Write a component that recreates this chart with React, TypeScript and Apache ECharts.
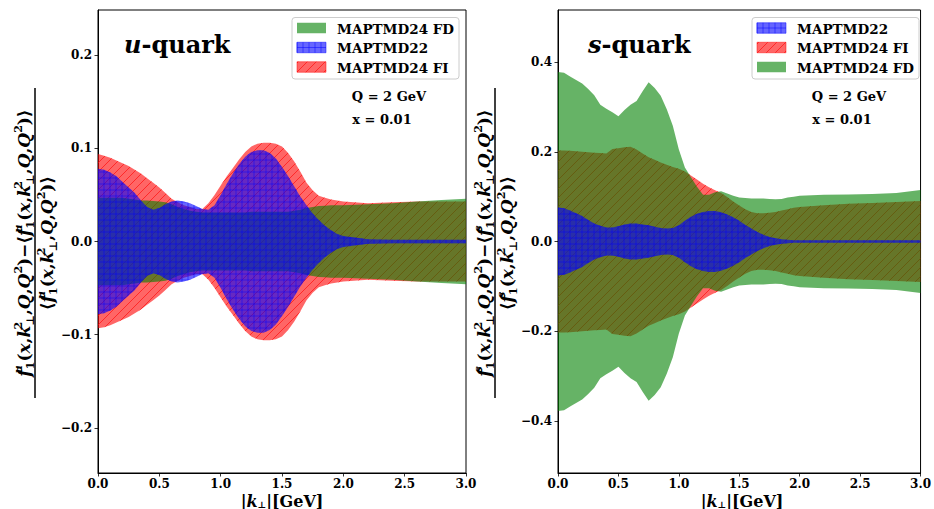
import React, { useEffect, useRef } from 'react';
import * as echarts from 'echarts';

// ---------- data ----------
const K = [
  0, 0.05, 0.1, 0.15, 0.2, 0.25, 0.3, 0.35, 0.4, 0.45,
  0.5, 0.55, 0.6, 0.65, 0.7, 0.75, 0.8, 0.85, 0.9, 0.95,
  1.0, 1.05, 1.1, 1.15, 1.2, 1.25, 1.3, 1.35, 1.4, 1.45,
  1.5, 1.55, 1.6, 1.65, 1.7, 1.75, 1.8, 1.85, 1.9, 1.95,
  2.0,
  2.2, 2.4, 2.6, 2.8, 3.0,
];

// u-quark
const U_FI_HI = [
  0.094, 0.092, 0.090, 0.087, 0.084, 0.081, 0.077, 0.073, 0.068, 0.063,
  0.058, 0.052, 0.046, 0.042, 0.039, 0.037, 0.035, 0.035, 0.041, 0.050,
  0.060, 0.070, 0.079, 0.088, 0.096, 0.102, 0.105, 0.106, 0.106, 0.105,
  0.102, 0.095, 0.086, 0.075, 0.063, 0.055, 0.049, 0.047, 0.045, 0.044,
  0.043,
  0.041, 0.042, 0.043, 0.043, 0.043,
];
const U_FI_LO = [
  -0.093, -0.092, -0.090, -0.087, -0.084, -0.081, -0.077, -0.073, -0.068, -0.063,
  -0.058, -0.052, -0.046, -0.042, -0.039, -0.037, -0.035, -0.035, -0.041, -0.050,
  -0.060, -0.070, -0.079, -0.088, -0.096, -0.102, -0.105, -0.106, -0.106, -0.105,
  -0.102, -0.095, -0.086, -0.075, -0.063, -0.055, -0.049, -0.047, -0.045, -0.044,
  -0.043,
  -0.041, -0.042, -0.043, -0.043, -0.043,
];
const U_FD_HI = [
  0.047, 0.047, 0.047, 0.047, 0.047, 0.046, 0.045, 0.044, 0.044, 0.0435,
  0.043, 0.042, 0.040, 0.037, 0.035, 0.033, 0.032, 0.031, 0.031, 0.031,
  0.031, 0.031, 0.031, 0.031, 0.031, 0.032, 0.032, 0.032, 0.032, 0.032,
  0.032, 0.032, 0.033, 0.034, 0.036, 0.037, 0.038, 0.0385, 0.039, 0.039,
  0.039,
  0.040, 0.041, 0.043, 0.0445, 0.046,
];
const U_FD_LO = [
  -0.047, -0.047, -0.047, -0.047, -0.047, -0.046, -0.045, -0.044, -0.044, -0.0435,
  -0.043, -0.042, -0.040, -0.037, -0.035, -0.033, -0.032, -0.031, -0.031, -0.031,
  -0.031, -0.031, -0.031, -0.031, -0.031, -0.032, -0.032, -0.032, -0.032, -0.032,
  -0.032, -0.032, -0.033, -0.034, -0.036, -0.037, -0.038, -0.0385, -0.039, -0.039,
  -0.039,
  -0.040, -0.041, -0.043, -0.0445, -0.046,
];
const U_22_HI = [
  0.078, 0.077, 0.074, 0.070, 0.064, 0.058, 0.052, 0.044, 0.037, 0.034,
  0.036, 0.040, 0.043, 0.044, 0.043, 0.041, 0.038, 0.035, 0.034, 0.039,
  0.050, 0.062, 0.073, 0.083, 0.091, 0.096, 0.098, 0.098, 0.095, 0.089,
  0.080, 0.070, 0.059, 0.048, 0.039, 0.030, 0.023, 0.017, 0.012, 0.008,
  0.006,
  0.0025, 0.002, 0.002, 0.002, 0.002,
];
const U_22_LO = [
  -0.078, -0.077, -0.074, -0.070, -0.064, -0.058, -0.052, -0.044, -0.037, -0.034,
  -0.036, -0.040, -0.043, -0.044, -0.043, -0.041, -0.038, -0.035, -0.034, -0.039,
  -0.050, -0.062, -0.073, -0.083, -0.091, -0.096, -0.098, -0.098, -0.095, -0.089,
  -0.080, -0.070, -0.059, -0.048, -0.039, -0.030, -0.023, -0.017, -0.012, -0.008,
  -0.006,
  -0.0025, -0.002, -0.002, -0.002, -0.002,
];

// s-quark
const S_FD_HI = [
  0.378, 0.376, 0.368, 0.360, 0.352, 0.340, 0.326, 0.305, 0.296, 0.288,
  0.279, 0.293, 0.305, 0.313, 0.335, 0.355, 0.342, 0.325, 0.295, 0.258,
  0.205, 0.165, 0.143, 0.122, 0.104, 0.104, 0.110, 0.112, 0.107, 0.102,
  0.098, 0.097, 0.096, 0.096, 0.096, 0.095, 0.094, 0.095, 0.098, 0.100,
  0.102,
  0.104, 0.105, 0.106, 0.108, 0.115,
];
const S_FD_LO = [
  -0.378, -0.376, -0.368, -0.360, -0.352, -0.340, -0.326, -0.305, -0.296, -0.288,
  -0.279, -0.293, -0.305, -0.313, -0.335, -0.355, -0.342, -0.325, -0.295, -0.258,
  -0.205, -0.165, -0.143, -0.122, -0.104, -0.104, -0.110, -0.112, -0.107, -0.102,
  -0.098, -0.097, -0.096, -0.096, -0.096, -0.095, -0.094, -0.095, -0.098, -0.100,
  -0.102,
  -0.104, -0.105, -0.106, -0.108, -0.115,
];
const S_FI_HI = [
  0.203, 0.203, 0.202, 0.201, 0.200, 0.199, 0.198, 0.197, 0.196, 0.206,
  0.208, 0.210, 0.211, 0.205, 0.196, 0.188, 0.182, 0.176, 0.171, 0.166,
  0.162, 0.156, 0.147, 0.138, 0.129, 0.121, 0.114, 0.108, 0.099, 0.089,
  0.080, 0.072, 0.066, 0.063, 0.063, 0.064, 0.066, 0.069, 0.072, 0.075,
  0.077,
  0.081, 0.084, 0.086, 0.088, 0.090,
];
const S_FI_LO = [
  -0.203, -0.203, -0.202, -0.201, -0.200, -0.199, -0.198, -0.197, -0.196, -0.206,
  -0.208, -0.210, -0.211, -0.205, -0.196, -0.188, -0.182, -0.176, -0.171, -0.166,
  -0.162, -0.156, -0.147, -0.138, -0.129, -0.121, -0.114, -0.108, -0.099, -0.089,
  -0.080, -0.072, -0.066, -0.063, -0.063, -0.064, -0.066, -0.069, -0.072, -0.075,
  -0.077,
  -0.081, -0.084, -0.086, -0.088, -0.090,
];
const S_22_HI = [
  0.076, 0.074, 0.069, 0.063, 0.057, 0.048, 0.040, 0.035, 0.031, 0.031,
  0.034, 0.038, 0.040, 0.040, 0.038, 0.036, 0.033, 0.030, 0.029, 0.030,
  0.036, 0.046, 0.055, 0.062, 0.066, 0.068, 0.068, 0.065, 0.060, 0.054,
  0.046, 0.037, 0.029, 0.021, 0.015, 0.010, 0.007, 0.005, 0.004, 0.003,
  0.003,
  0.003, 0.003, 0.003, 0.003, 0.003,
];
const S_22_LO = [
  -0.076, -0.074, -0.069, -0.063, -0.057, -0.048, -0.040, -0.035, -0.031, -0.031,
  -0.034, -0.038, -0.040, -0.040, -0.038, -0.036, -0.033, -0.030, -0.029, -0.030,
  -0.036, -0.046, -0.055, -0.062, -0.066, -0.068, -0.068, -0.065, -0.060, -0.054,
  -0.046, -0.037, -0.029, -0.021, -0.015, -0.010, -0.007, -0.005, -0.004, -0.003,
  -0.003,
  -0.003, -0.003, -0.003, -0.003, -0.003,
];

const X_TICKS = [0, 0.5, 1.0, 1.5, 2.0, 2.5, 3.0];
const U_Y_TICKS = [-0.2, -0.1, 0, 0.1, 0.2];
const S_Y_TICKS = [-0.4, -0.2, 0, 0.2, 0.4];
const U_LEGEND = ['MAPTMD24 FD', 'MAPTMD22', 'MAPTMD24 FI'];
const S_LEGEND = ['MAPTMD22', 'MAPTMD24 FI', 'MAPTMD24 FD'];

// ---------- styling ----------
const FONT = "'DejaVu Serif', 'Liberation Serif', serif";
const RED_FILL = 'rgba(255,0,0,0.6)';
const RED_HATCH = 'rgba(255,0,0,0.6)';
const GREEN_FILL = 'rgba(0,128,0,0.6)';
const BLUE_FILL = 'rgba(0,0,255,0.6)';
const BLUE_HATCH = 'rgba(0,0,255,0.6)';

function diagLines(x0: number, y0: number, x1: number, y1: number, step: number, stroke: string, lw: number) {
  const out: any[] = [];
  const start = Math.floor((x0 + y0) / step) * step;
  for (let c = start; c <= x1 + y1 + step; c += step) {
    const xa = Math.max(x0, c - y1);
    const xb = Math.min(x1, c - y0);
    if (xb <= xa) continue;
    out.push({ type: 'line', silent: true, shape: { x1: xa, y1: c - xa, x2: xb, y2: c - xb }, style: { stroke, lineWidth: lw, fill: 'none' } });
  }
  return out;
}

function gridLines(x0: number, y0: number, x1: number, y1: number, step: number, ox: number, oy: number, stroke: string, lw: number) {
  const out: any[] = [];
  for (let x = ox + Math.ceil((x0 - ox) / step) * step; x <= x1; x += step) {
    out.push({ type: 'line', silent: true, shape: { x1: x, y1: y0, x2: x, y2: y1 }, style: { stroke, lineWidth: lw, fill: 'none' } });
  }
  for (let y = oy + Math.ceil((y0 - oy) / step) * step; y <= y1; y += step) {
    out.push({ type: 'line', silent: true, shape: { x1: x0, y1: y, x2: x1, y2: y }, style: { stroke, lineWidth: lw, fill: 'none' } });
  }
  return out;
}

function band(name: string, idx: number, lo: number[], hi: number[], fill: string, hatch: string | null) {
  const data = K.map((k, i) => [k, lo[i], hi[i]]);
  return {
    type: 'custom',
    name,
    xAxisIndex: idx,
    yAxisIndex: idx,
    silent: true,
    clip: true,
    encode: { x: 0, y: [1, 2] },
    data,
    renderItem: (params: any, api: any) => {
      if (params.dataIndex !== 0) return null;
      const top = data.map((d) => api.coord([d[0], d[2]]));
      const bot = data.map((d) => api.coord([d[0], d[1]])).reverse();
      const pts = top.concat(bot);
      let minX = Infinity, minY = Infinity, maxX = -Infinity, maxY = -Infinity;
      for (const p of pts) {
        minX = Math.min(minX, p[0]); maxX = Math.max(maxX, p[0]);
        minY = Math.min(minY, p[1]); maxY = Math.max(maxY, p[1]);
      }
      const cs = params.coordSys;
      const children: any[] = [
        { type: 'polygon', shape: { points: pts }, style: { fill, stroke: 'none' } },
      ];
      if (hatch === 'diag') {
        children.push({ type: 'group', clipPath: { type: 'polygon', shape: { points: pts } }, children: diagLines(minX, minY, maxX, maxY, 9, RED_HATCH, 1) });
      } else if (hatch === 'grid') {
        children.push({ type: 'group', clipPath: { type: 'polygon', shape: { points: pts } }, children: gridLines(minX, minY, maxX, maxY, 6, cs.x, cs.y, BLUE_HATCH, 0.8) });
      }
      return { type: 'group', children };
    },
  };
}

function legendPatch(kind: string, x: number, yc: number) {
  const w = 29, h = 10.5;
  const y0 = yc - h / 2;
  const items: any[] = [];
  if (kind === 'MAPTMD24 FD') {
    items.push({ type: 'rect', shape: { x, y: y0, width: w, height: h }, style: { fill: GREEN_FILL } });
  } else if (kind === 'MAPTMD22') {
    items.push({ type: 'rect', shape: { x, y: y0, width: w, height: h }, style: { fill: BLUE_FILL, stroke: BLUE_HATCH, lineWidth: 0.8 } });
    items.push(...gridLines(x, y0, x + w, y0 + h, 6, x, y0 - 0.75, BLUE_HATCH, 0.8));
  } else {
    items.push({ type: 'rect', shape: { x, y: y0, width: w, height: h }, style: { fill: RED_FILL, stroke: RED_HATCH, lineWidth: 0.8 } });
    items.push(...diagLines(x, y0, x + w, y0 + h, 9, RED_HATCH, 1));
  }
  return items;
}

function legendBox(x: number, labels: string[]) {
  const els: any[] = [
    { type: 'rect', shape: { x, y: 17.5, width: 167, height: 61.5, r: 3 }, style: { fill: 'rgba(255,255,255,0.8)', stroke: '#cccccc', lineWidth: 1 } },
  ];
  const rows = [28, 47.5, 67];
  labels.forEach((lab, i) => {
    els.push(...legendPatch(lab, x + 5, rows[i]));
    els.push({
      type: 'text', x: x + 45, y: rows[i] + 0.5,
      style: { text: lab, fill: '#000', font: `bold 13.5px ${FONT}`, align: 'left', verticalAlign: 'middle', textAlign: 'left', textVerticalAlign: 'middle' },
    });
  });
  return els;
}

function annot(cx: number) {
  return [
    { type: 'text', x: cx, y: 96.5, style: { text: 'Q = 2 GeV', fill: '#000', font: `bold 13px ${FONT}`, align: 'center', verticalAlign: 'middle', textAlign: 'center', textVerticalAlign: 'middle' } },
    { type: 'text', x: cx - 7, y: 119.5, style: { text: 'x = 0.01', fill: '#000', font: `bold 13px ${FONT}`, align: 'center', verticalAlign: 'middle', textAlign: 'center', textVerticalAlign: 'middle' } },
  ];
}

const MATH_RICH = {
  m: { fontFamily: FONT, fontSize: 17, fontWeight: 'bold', fontStyle: 'italic', lineHeight: 23, fill: '#000', color: '#000' },
  n: { fontFamily: FONT, fontSize: 17, fontWeight: 'bold', lineHeight: 23, fill: '#000', color: '#000' },
  su: { fontFamily: FONT, fontSize: 11, fontWeight: 'bold', fontStyle: 'italic', verticalAlign: 'top', width: 0.1, fill: '#000', color: '#000' },
  s2: { fontFamily: FONT, fontSize: 11, fontWeight: 'bold', verticalAlign: 'top', width: 0.1, fill: '#000', color: '#000' },
  sp: { fontFamily: FONT, fontSize: 11, fontWeight: 'bold', verticalAlign: 'top', fill: '#000', color: '#000' },
  sb: { fontFamily: FONT, fontSize: 11, fontWeight: 'bold', verticalAlign: 'bottom', fill: '#000', color: '#000' },
};

function fAvg(q: string) {
  return `{m|f}{su|${q}}{sb|1}{n|(}{m|x}{n|,}{m|k}{s2|2}{sb|⊥}{n|,}{m|Q}{n|,}{m|Q}{sp|2}{n|)}`;
}

function yLabel(cx: number, q: string) {
  return {
    type: 'group', x: cx, y: 243, rotation: Math.PI / 2,
    children: [
      { type: 'text', x: 0, y: -11, style: { text: `${fAvg(q)}{n|−⟨}${fAvg(q)}{n|⟩}`, rich: MATH_RICH, align: 'center', verticalAlign: 'middle', textAlign: 'center', textVerticalAlign: 'middle' } },
      { type: 'line', shape: { x1: -155, y1: 0, x2: 155, y2: 0 }, style: { stroke: '#000', lineWidth: 1.5 } },
      { type: 'text', x: 0, y: 12, style: { text: `{n|⟨}${fAvg(q)}{n|⟩}`, rich: MATH_RICH, align: 'center', verticalAlign: 'middle', textAlign: 'center', textVerticalAlign: 'middle' } },
    ],
  };
}

function title(x: number, q: string) {
  return {
    type: 'text', x, y: 44,
    style: {
      text: `{i|${q}}{b|-quark}`,
      rich: {
        i: { fontFamily: FONT, fontSize: 24, fontWeight: 'bold', fontStyle: 'italic', fill: '#000', color: '#000' },
        b: { fontFamily: FONT, fontSize: 24, fontWeight: 'bold', fill: '#000', color: '#000' },
      },
      align: 'left', verticalAlign: 'middle', textAlign: 'left', textVerticalAlign: 'middle',
    },
  };
}

function xLabel(cx: number) {
  return {
    type: 'text', x: cx, y: 501,
    style: {
      text: '{n||}{i|k}{s|⊥}{n||[GeV]}',
      rich: {
        n: { fontFamily: FONT, fontSize: 16, fontWeight: 'bold', lineHeight: 16, fill: '#000', color: '#000' },
        i: { fontFamily: FONT, fontSize: 16, fontWeight: 'bold', fontStyle: 'italic', lineHeight: 16, fill: '#000', color: '#000' },
        s: { fontFamily: FONT, fontSize: 9, fontWeight: 'bold', verticalAlign: 'bottom', fill: '#000', color: '#000' },
      },
      align: 'center', verticalAlign: 'middle', textAlign: 'center', textVerticalAlign: 'middle',
    },
  };
}

const fmt = (v: number) => {
  const s = (Math.round(v * 10) / 10).toFixed(1);
  return s.startsWith('-') ? '−' + s.slice(1) : s;
};

function xAxis(idx: number) {
  return {
    type: 'value', gridIndex: idx, min: 0, max: 3, interval: 0.5,
    axisLine: { show: true, onZero: false, lineStyle: { color: '#000', width: 1 } },
    axisTick: { show: true, length: 3.5, lineStyle: { color: '#000', width: 0.8 }, customValues: X_TICKS },
    axisLabel: { customValues: X_TICKS, formatter: fmt, color: '#000', fontFamily: FONT, fontWeight: 'bold', fontSize: 12, margin: 5, showMinLabel: true, showMaxLabel: true },
    splitLine: { show: false },
  };
}

function yAxis(idx: number, lim: number, ticks: number[]) {
  return {
    type: 'value', gridIndex: idx, min: -lim, max: lim,
    axisLine: { show: true, onZero: false, lineStyle: { color: '#000', width: 1 } },
    axisTick: { show: true, length: 3.5, lineStyle: { color: '#000', width: 0.8 }, customValues: ticks },
    axisLabel: { customValues: ticks, formatter: fmt, color: '#000', fontFamily: FONT, fontWeight: 'bold', fontSize: 12, margin: 6 },
    splitLine: { show: false },
  };
}

function buildOption() {
  return {
    animation: false,
    grid: [
      { left: 98, top: 10, width: 368, height: 463, show: true, borderColor: '#000', borderWidth: 1, backgroundColor: 'transparent' },
      { left: 558, top: 10, width: 368, height: 463, show: true, borderColor: '#000', borderWidth: 1, backgroundColor: 'transparent' },
    ],
    xAxis: [xAxis(0), xAxis(1)],
    yAxis: [yAxis(0, 0.2485, U_Y_TICKS), yAxis(1, 0.516, S_Y_TICKS)],
    series: [
      band('MAPTMD24 FI', 0, U_FI_LO, U_FI_HI, RED_FILL, 'diag'),
      band('MAPTMD24 FD', 0, U_FD_LO, U_FD_HI, GREEN_FILL, null),
      band('MAPTMD22', 0, U_22_LO, U_22_HI, BLUE_FILL, 'grid'),
      band('MAPTMD24 FI', 1, S_FI_LO, S_FI_HI, RED_FILL, 'diag'),
      band('MAPTMD24 FD', 1, S_FD_LO, S_FD_HI, GREEN_FILL, null),
      band('MAPTMD22', 1, S_22_LO, S_22_HI, BLUE_FILL, 'grid'),
    ],
    graphic: [
      title(124, 'u'),
      title(588, 's'),
      ...legendBox(292, U_LEGEND),
      ...legendBox(752, S_LEGEND),
      ...annot(389),
      ...annot(849),
      yLabel(35, 'u'),
      yLabel(495, 's'),
      xLabel(282),
      xLabel(742),
    ],
  };
}

export default function App() {
  const ref = useRef<HTMLDivElement>(null);
  useEffect(() => {
    document.body.style.margin = '0';
    const chart = echarts.init(ref.current as HTMLDivElement, null, { renderer: 'svg' });
    chart.setOption(buildOption() as any);
    return () => chart.dispose();
  }, []);
  return <div ref={ref} style={{ width: 934, height: 509 }} />;
}
